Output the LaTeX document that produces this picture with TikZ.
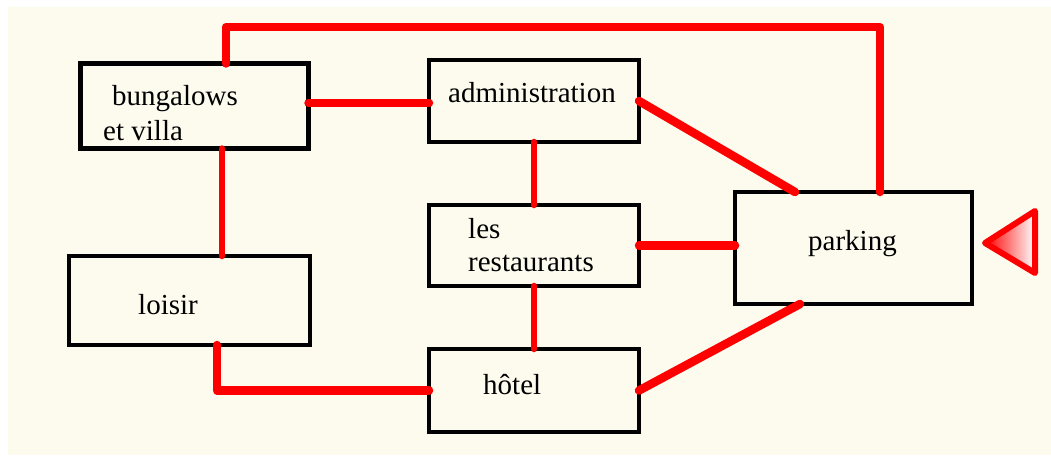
\documentclass[tikz,border=0pt]{standalone}
\usepackage{fontspec}
\setmainfont{Liberation Serif}
\usetikzlibrary{calc}
\definecolor{cream}{HTML}{FDFAEE}
\begin{document}
\begin{tikzpicture}[x=1pt,y=-1pt,
  box/.style={draw=black, line width=4.5pt, rectangle, inner sep=0pt, outer sep=0pt},
  lbl/.style={anchor=base west, inner sep=0pt, font=\fontsize{29}{31}\selectfont},
  link/.style={draw=red, line width=8.5pt, line cap=round, line join=round},
  thinlink/.style={draw=red, line width=6.5pt, line cap=round, line join=round}]
\useasboundingbox (0,0) rectangle (1051,455);
\fill[white] (0,0) rectangle (1051,455);
\fill[cream] (8,7) rectangle (1051,455);
% boxes
\node[box, minimum width=228pt, minimum height=85pt] (bung) at (194.5,106) {};
\node[box, minimum width=210pt, minimum height=82pt] (admin) at (534,101) {};
\node[box, minimum width=210pt, minimum height=81pt] (rest) at (534,245.5) {};
\node[box, minimum width=210pt, minimum height=83pt] (hotel) at (534,390.5) {};
\node[box, minimum width=241pt, minimum height=89pt] (loisir) at (189.5,300.5) {};
\node[box, minimum width=237pt, minimum height=112pt] (parking) at (853.5,248) {};
% labels
\node[lbl] (t1) at (112,105) {bungalows};
\node[lbl] (t2) at (103,140) {et villa};
\node[lbl] (t3) at (448,102) {administration};
\node[lbl] (t4) at (468,238) {les};
\node[lbl] (t5) at (468,271) {restaurants};
\node[lbl] (t6) at (483,394) {hôtel};
\node[lbl] (t7) at (138,314) {loisir};
\node[lbl] (t8) at (808,250) {parking};
% connectors
\coordinate (loopcorner) at (880,27);
\draw[link] (bung.east |- 0,103) -- (admin.west |- 0,103);
\draw[thinlink] ([xshift=27.5pt]bung.south) -- ([xshift=32.5pt]loisir.north);
\draw[link] ([xshift=31.5pt]bung.north) |- (loopcorner) -- ([xshift=26.5pt]parking.north);
\draw[thinlink] (admin.south) -- (rest.north);
\draw[link] (admin.east) -- ([xshift=-58.5pt]parking.north);
\draw[link] (rest.east) -- (parking.west |- rest.east);
\draw[thinlink] (rest.south) -- (hotel.north);
\draw[link] ([xshift=27.5pt]loisir.south) |- (hotel.west);
\draw[link] (hotel.east) -- ([xshift=-53.5pt]parking.south);
% entrance triangle
\draw[draw=red, line width=6pt, line join=round, left color=red, right color=white]
  (985,243) -- (1035,211) -- (1035,273) -- cycle;
\end{tikzpicture}
\end{document}
